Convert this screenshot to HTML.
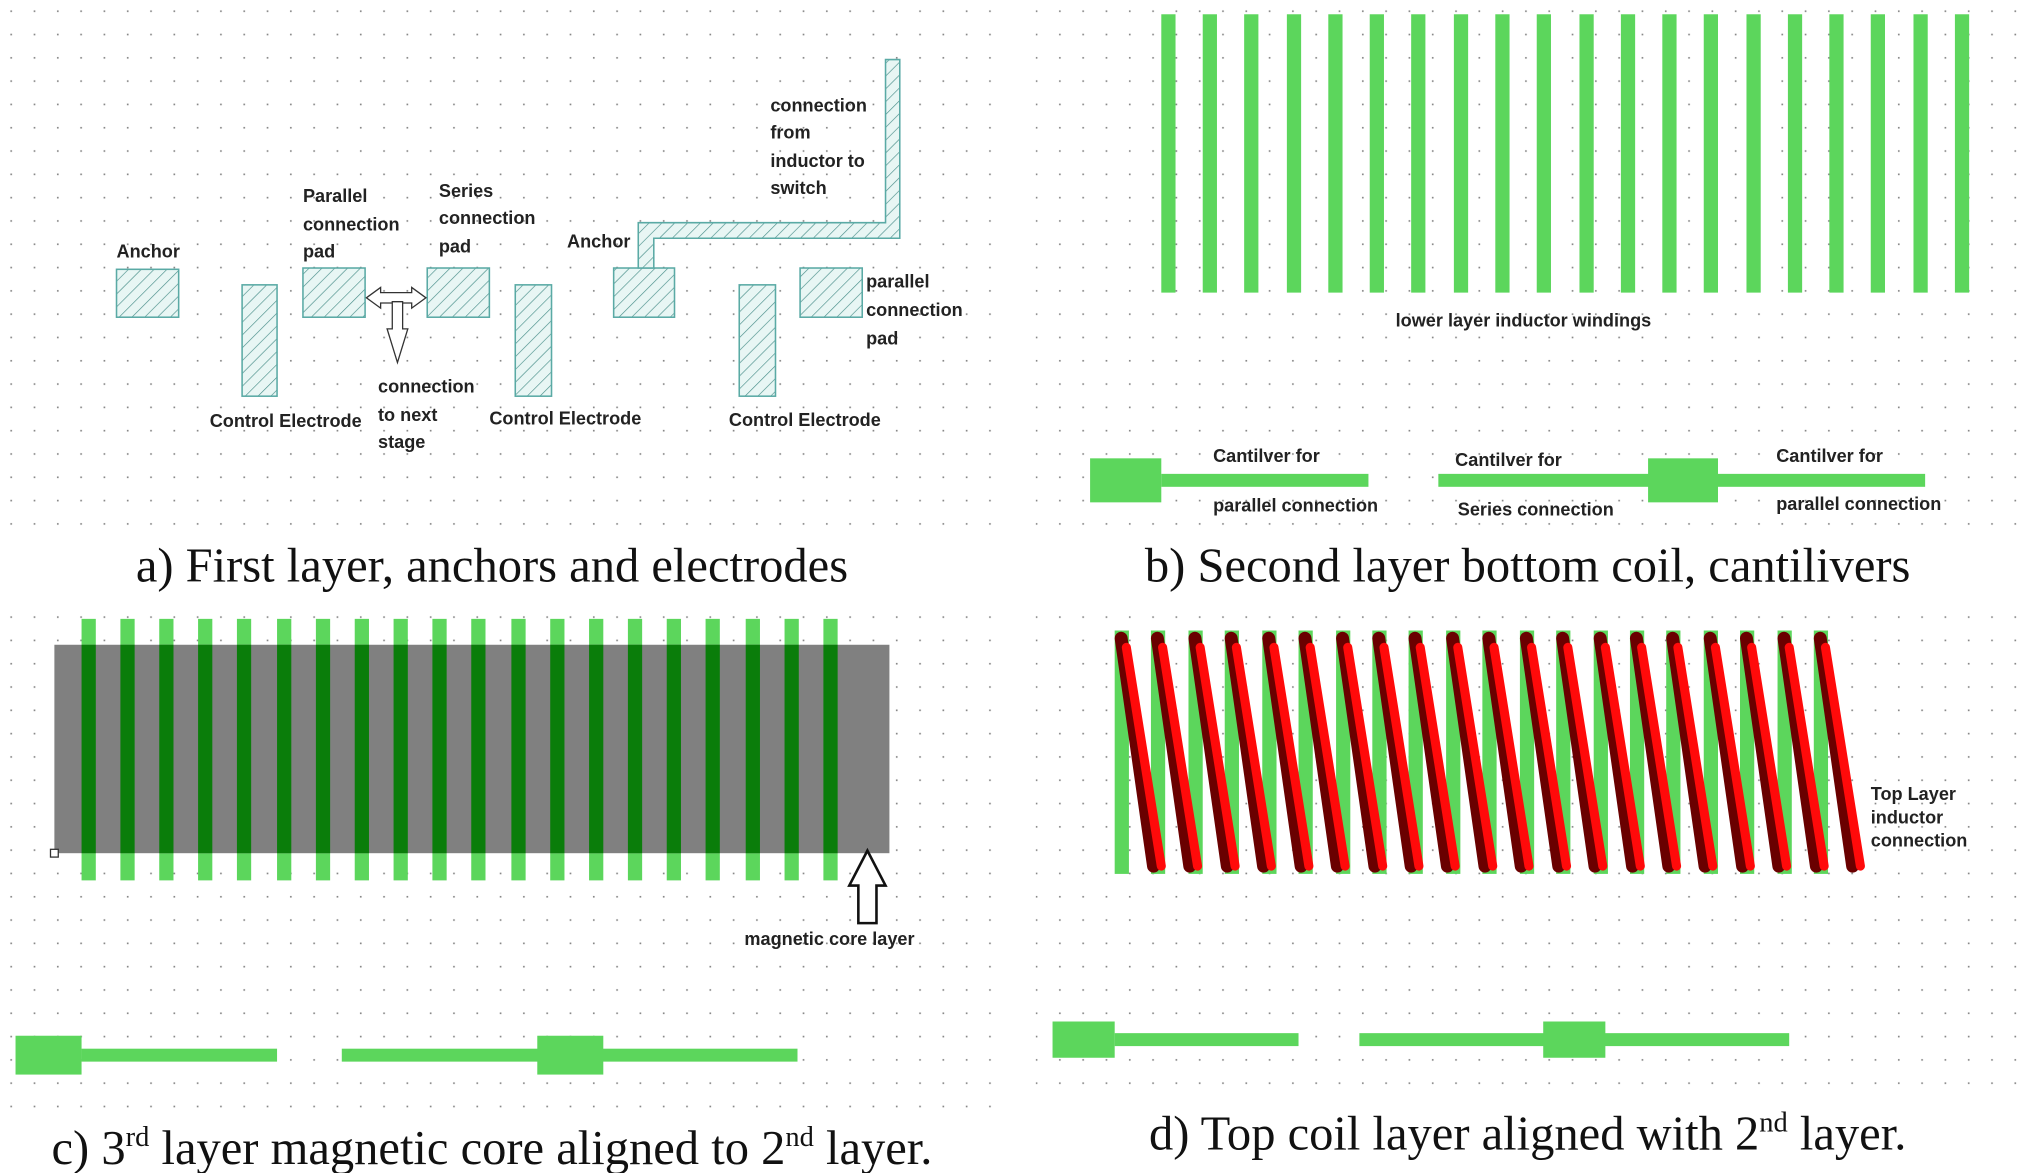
<!DOCTYPE html>
<html><head><meta charset="utf-8"><style>
html,body{margin:0;padding:0;background:#fff;}
svg{display:block;}
.l{font-family:"Liberation Sans",sans-serif;font-size:14px;font-weight:bold;fill:#222;}
.c{font-family:"Liberation Serif",serif;font-size:37.5px;fill:#111;}
</style></head><body>
<svg width="2030" height="1173" viewBox="0 0 1568 906" xmlns="http://www.w3.org/2000/svg">
<defs>
<pattern id="dots" width="18" height="18" patternUnits="userSpaceOnUse"><rect x="8" y="8" width="1.3" height="1.3" fill="#888"/></pattern>
<pattern id="hat" width="7" height="7" patternUnits="userSpaceOnUse" patternTransform="rotate(45)"><rect width="7" height="7" fill="#e8f6f4"/><line x1="0" y1="0" x2="0" y2="7" stroke="#4a8f8a" stroke-width="1"/></pattern>
</defs>
<rect width="1568" height="906" fill="#fff"/>
<rect x="0" y="0" width="770" height="412" fill="url(#dots)"/>
<rect x="800" y="0" width="768" height="412" fill="url(#dots)"/>
<rect x="0" y="460" width="770" height="400" fill="url(#dots)"/>
<rect x="800" y="460" width="768" height="390" fill="url(#dots)"/>

<!-- panel a -->
<g stroke="#5aaaa5" stroke-width="1.2" fill="url(#hat)">
<rect x="90" y="208" width="48" height="37"/>
<rect x="187" y="220" width="27" height="86"/>
<rect x="234" y="207" width="48" height="38"/>
<rect x="330" y="207" width="48" height="38"/>
<rect x="398" y="220" width="28" height="86"/>
<rect x="474" y="207" width="47" height="38"/>
<rect x="571" y="220" width="28" height="86"/>
<rect x="618" y="207" width="48" height="38"/>
<path d="M493 207 V172 H684 V46 H695 V184 H505 V207 Z"/>
</g>
<g fill="#fff" stroke="#333" stroke-width="1">
<path d="M283 230 L294 222 V226 H318 V222 L329 230 L318 238 V234 H294 V238 Z"/>
<path d="M303 233 V254 H299 L307 280 L315 254 H311 V233 Z"/>
</g>
<g class="l">
<text x="90" y="199">Anchor</text>
<text x="162" y="330">Control Electrode</text>
<text x="234" y="156">Parallel</text><text x="234" y="178">connection</text><text x="234" y="199">pad</text>
<text x="339" y="152">Series</text><text x="339" y="173">connection</text><text x="339" y="195">pad</text>
<text x="292" y="303">connection</text><text x="292" y="325">to next</text><text x="292" y="346">stage</text>
<text x="378" y="328">Control Electrode</text>
<text x="438" y="191">Anchor</text>
<text x="595" y="86">connection</text><text x="595" y="107">from</text><text x="595" y="129">inductor to</text><text x="595" y="150">switch</text>
<text x="563" y="329">Control Electrode</text>
<text x="669" y="222">parallel</text><text x="669" y="244">connection</text><text x="669" y="266">pad</text>
</g>
<text class="c" x="380" y="449" text-anchor="middle">a) First layer, anchors and electrodes</text>

<!-- panel b -->
<g fill="#5cd65c">
<rect x="897" y="11" width="11" height="215"/><rect x="929" y="11" width="11" height="215"/><rect x="961" y="11" width="11" height="215"/><rect x="994" y="11" width="11" height="215"/><rect x="1026" y="11" width="11" height="215"/><rect x="1058" y="11" width="11" height="215"/><rect x="1090" y="11" width="11" height="215"/><rect x="1123" y="11" width="11" height="215"/><rect x="1155" y="11" width="11" height="215"/><rect x="1187" y="11" width="11" height="215"/><rect x="1220" y="11" width="11" height="215"/><rect x="1252" y="11" width="11" height="215"/><rect x="1284" y="11" width="11" height="215"/><rect x="1316" y="11" width="11" height="215"/><rect x="1349" y="11" width="11" height="215"/><rect x="1381" y="11" width="11" height="215"/><rect x="1413" y="11" width="11" height="215"/><rect x="1445" y="11" width="11" height="215"/><rect x="1478" y="11" width="11" height="215"/><rect x="1510" y="11" width="11" height="215"/>
<rect x="842" y="354" width="55" height="34"/><rect x="897" y="366" width="160" height="10"/>
<rect x="1111" y="366" width="376" height="10"/><rect x="1273" y="354" width="54" height="34"/>
</g>
<g class="l">
<text x="1078" y="252">lower layer inductor windings</text>
<text x="937" y="357">Cantilver for</text><text x="937" y="395">parallel connection</text>
<text x="1124" y="360">Cantilver for</text><text x="1126" y="398">Series connection</text>
<text x="1372" y="357">Cantilver for</text><text x="1372" y="394">parallel connection</text>
</g>
<text class="c" x="1180" y="449" text-anchor="middle">b) Second layer bottom coil, cantilivers</text>

<!-- panel c -->
<g fill="#5cd65c">
<rect x="63" y="478" width="11" height="202"/><rect x="93" y="478" width="11" height="202"/><rect x="123" y="478" width="11" height="202"/><rect x="153" y="478" width="11" height="202"/><rect x="183" y="478" width="11" height="202"/><rect x="214" y="478" width="11" height="202"/><rect x="244" y="478" width="11" height="202"/><rect x="274" y="478" width="11" height="202"/><rect x="304" y="478" width="11" height="202"/><rect x="334" y="478" width="11" height="202"/><rect x="364" y="478" width="11" height="202"/><rect x="395" y="478" width="11" height="202"/><rect x="425" y="478" width="11" height="202"/><rect x="455" y="478" width="11" height="202"/><rect x="485" y="478" width="11" height="202"/><rect x="515" y="478" width="11" height="202"/><rect x="545" y="478" width="11" height="202"/><rect x="576" y="478" width="11" height="202"/><rect x="606" y="478" width="11" height="202"/><rect x="636" y="478" width="11" height="202"/>
</g>
<rect x="42" y="498" width="645" height="161" fill="#808080"/>
<g fill="#0a7d0a">
<rect x="63" y="498" width="11" height="161"/><rect x="93" y="498" width="11" height="161"/><rect x="123" y="498" width="11" height="161"/><rect x="153" y="498" width="11" height="161"/><rect x="183" y="498" width="11" height="161"/><rect x="214" y="498" width="11" height="161"/><rect x="244" y="498" width="11" height="161"/><rect x="274" y="498" width="11" height="161"/><rect x="304" y="498" width="11" height="161"/><rect x="334" y="498" width="11" height="161"/><rect x="364" y="498" width="11" height="161"/><rect x="395" y="498" width="11" height="161"/><rect x="425" y="498" width="11" height="161"/><rect x="455" y="498" width="11" height="161"/><rect x="485" y="498" width="11" height="161"/><rect x="515" y="498" width="11" height="161"/><rect x="545" y="498" width="11" height="161"/><rect x="576" y="498" width="11" height="161"/><rect x="606" y="498" width="11" height="161"/><rect x="636" y="498" width="11" height="161"/>
</g>
<rect x="39" y="656" width="6" height="6" fill="#fff" stroke="#333" stroke-width="1"/>
<path d="M670 657 L684 684 H677 V713 H663 V684 H656 Z" fill="#fff" stroke="#111" stroke-width="2"/>
<text class="l" x="575" y="730">magnetic core layer</text>
<g fill="#5cd65c">
<rect x="12" y="800" width="51" height="30"/><rect x="63" y="810" width="151" height="10"/>
<rect x="264" y="810" width="352" height="10"/><rect x="415" y="800" width="51" height="30"/>
</g>
<text class="c" x="380" y="899" text-anchor="middle">c) 3<tspan font-size="22" dy="-14">rd</tspan><tspan dy="14"> layer magnetic core aligned to 2</tspan><tspan font-size="22" dy="-14">nd</tspan><tspan dy="14"> layer.</tspan></text>

<!-- panel d -->
<g fill="#5cd65c">
<rect x="861" y="487" width="11" height="188"/><rect x="889" y="487" width="11" height="188"/><rect x="918" y="487" width="11" height="188"/><rect x="946" y="487" width="11" height="188"/><rect x="975" y="487" width="11" height="188"/><rect x="1003" y="487" width="11" height="188"/><rect x="1032" y="487" width="11" height="188"/><rect x="1060" y="487" width="11" height="188"/><rect x="1088" y="487" width="11" height="188"/><rect x="1117" y="487" width="11" height="188"/><rect x="1145" y="487" width="11" height="188"/><rect x="1174" y="487" width="11" height="188"/><rect x="1202" y="487" width="11" height="188"/><rect x="1231" y="487" width="11" height="188"/><rect x="1259" y="487" width="11" height="188"/><rect x="1287" y="487" width="11" height="188"/><rect x="1316" y="487" width="11" height="188"/><rect x="1344" y="487" width="11" height="188"/><rect x="1373" y="487" width="11" height="188"/><rect x="1401" y="487" width="11" height="188"/>
</g>
<g stroke-linecap="round" stroke-width="10">
<g stroke="#6a0000">
<path d="M866 493 L891 669 M894 493 L919 669 M923 493 L948 669 M951 493 L976 669 M980 493 L1005 669 M1008 493 L1033 669 M1037 493 L1062 669 M1065 493 L1090 669 M1093 493 L1118 669 M1122 493 L1147 669 M1150 493 L1175 669 M1179 493 L1204 669 M1207 493 L1232 669 M1236 493 L1261 669 M1264 493 L1289 669 M1292 493 L1317 669 M1321 493 L1346 669 M1349 493 L1374 669 M1378 493 L1403 669 M1406 493 L1431 669"/>
</g>
<g stroke="#ff0a0a" stroke-width="7">
<path d="M870 500 L897 669 M898 500 L925 669 M927 500 L954 669 M955 500 L982 669 M984 500 L1011 669 M1012 500 L1039 669 M1041 500 L1068 669 M1069 500 L1096 669 M1097 500 L1124 669 M1126 500 L1153 669 M1154 500 L1181 669 M1183 500 L1210 669 M1211 500 L1238 669 M1240 500 L1267 669 M1268 500 L1295 669 M1296 500 L1323 669 M1325 500 L1352 669 M1353 500 L1380 669 M1382 500 L1409 669 M1410 500 L1437 669"/>
</g>
</g>
<g class="l">
<text x="1445" y="618">Top Layer</text><text x="1445" y="636">inductor</text><text x="1445" y="654">connection</text>
</g>
<g fill="#5cd65c">
<rect x="813" y="789" width="48" height="28"/><rect x="861" y="798" width="142" height="10"/>
<rect x="1050" y="798" width="332" height="10"/><rect x="1192" y="789" width="48" height="28"/>
</g>
<text class="c" x="1180" y="888" text-anchor="middle">d) Top coil layer aligned with 2<tspan font-size="22" dy="-14">nd</tspan><tspan dy="14"> layer.</tspan></text>
</svg>
</body></html>
